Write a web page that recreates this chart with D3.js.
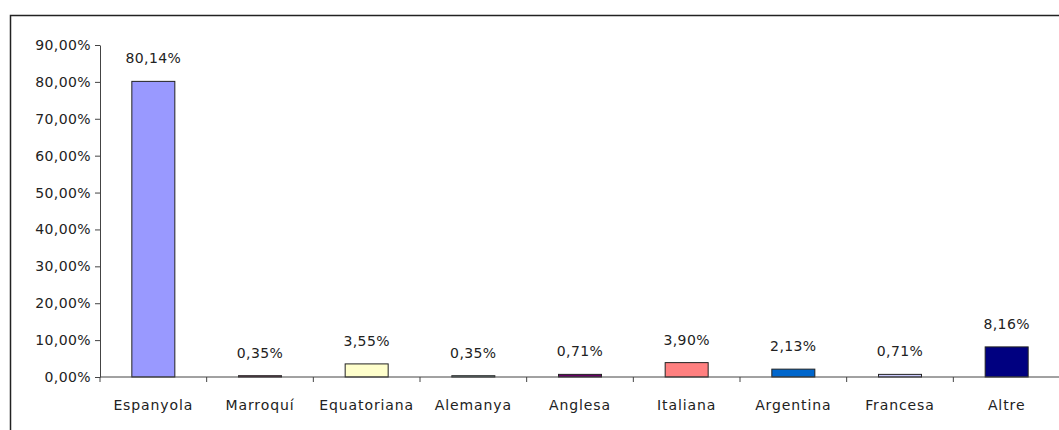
<!DOCTYPE html>
<html>
<head>
<meta charset="utf-8">
<script src="https://cdn.jsdelivr.net/npm/d3@7"></script>
<style>
  body { margin: 0; background: #fff; }
  text { font-family: "DejaVu Sans", sans-serif; fill: #222; }
</style>
</head>
<body>
<div id="canvas"></div>
<script>
var width = 1059, height = 430;
var margin = {top: 45, left: 100, bottom: 53, right: -1};

// nationalities and their share
var categories = ["Espanyola", "Marroquí", "Equatoriana", "Alemanya", "Anglesa", "Italiana", "Argentina", "Francesa", "Altre"];
var values = [80.14, 0.35, 3.55, 0.35, 0.71, 3.90, 2.13, 0.71, 8.16];
var barColors = ["#9999ff", "#993366", "#ffffcc", "#ccffff", "#660066", "#ff8080", "#0066cc", "#ccccff", "#000080"];
var yTicks = [0, 10, 20, 30, 40, 50, 60, 70, 80, 90];

var fmt = function(v) { return v.toFixed(2).replace(".", ",") + "%" };

var svg = d3.select("#canvas").append("svg").attr("width", width).attr("height", height);
// outer frame
svg.append("rect").attr("x", 10.5).attr("y", 15.5).attr("width", 1060).attr("height", 430)
    .attr("fill", "none").attr("stroke", "#222").attr("stroke-width", 1.5);

var g = svg.append("g").attr("transform", "translate(" + margin.left + "," + margin.top + ")");
var plotW = width - margin.left - margin.right;
var plotH = height - margin.top - margin.bottom;

var x = d3.scaleBand().domain(categories).range([0, plotW]).paddingInner(0).paddingOuter(0);
var y = d3.scaleLinear().domain([0, 90]).range([plotH, 0]);

var yAxis = g.append("g")
    .call(d3.axisLeft(y).tickValues(yTicks).tickSize(5).tickSizeOuter(0).tickFormat(fmt));
yAxis.selectAll("text").style("font-size", "14px").style("letter-spacing", "0.4px").attr("x", -9);
yAxis.selectAll("line, path").attr("stroke", "#444");

var bw = 43;
g.append("g").selectAll("rect")
    .data(values)
    .enter().append("rect")
    .attr("x", function(d, i) { return x(categories[i]) + x.bandwidth() / 2 - bw / 2 })
    .attr("y", function(d) { return y(d) })
    .attr("width", bw)
    .attr("height", function(d) { return plotH - y(d) })
    .attr("fill", function(d, i) { return barColors[i] })
    .attr("stroke", "#222")
    .attr("stroke-width", 1);

g.append("g").selectAll("text")
    .data(values)
    .enter().append("text")
    .attr("x", function(d, i) { return x(categories[i]) + x.bandwidth() / 2 })
    .attr("y", function(d) { return y(d) - 18 })
    .attr("text-anchor", "middle")
    .style("font-size", "14px")
    .style("letter-spacing", "0.4px")
    .text(function(d) { return fmt(d) });

// x axis with ticks on band boundaries
var xAxis = g.append("g").attr("transform", "translate(0," + plotH + ")");
xAxis.append("line").attr("x1", 0).attr("x2", plotW).attr("stroke", "#444");
xAxis.selectAll("line.tk")
    .data(categories)
    .enter().append("line").attr("class", "tk")
    .attr("x1", function(d) { return x(d) }).attr("x2", function(d) { return x(d) })
    .attr("y1", 0).attr("y2", 5).attr("stroke", "#444");
xAxis.selectAll("text")
    .data(categories)
    .enter().append("text")
    .attr("x", function(d) { return x(d) + x.bandwidth() / 2 })
    .attr("y", 33)
    .attr("text-anchor", "middle")
    .style("font-size", "14px")
    .style("letter-spacing", "0.9px")
    .text(function(d) { return d });
</script>
</body>
</html>
